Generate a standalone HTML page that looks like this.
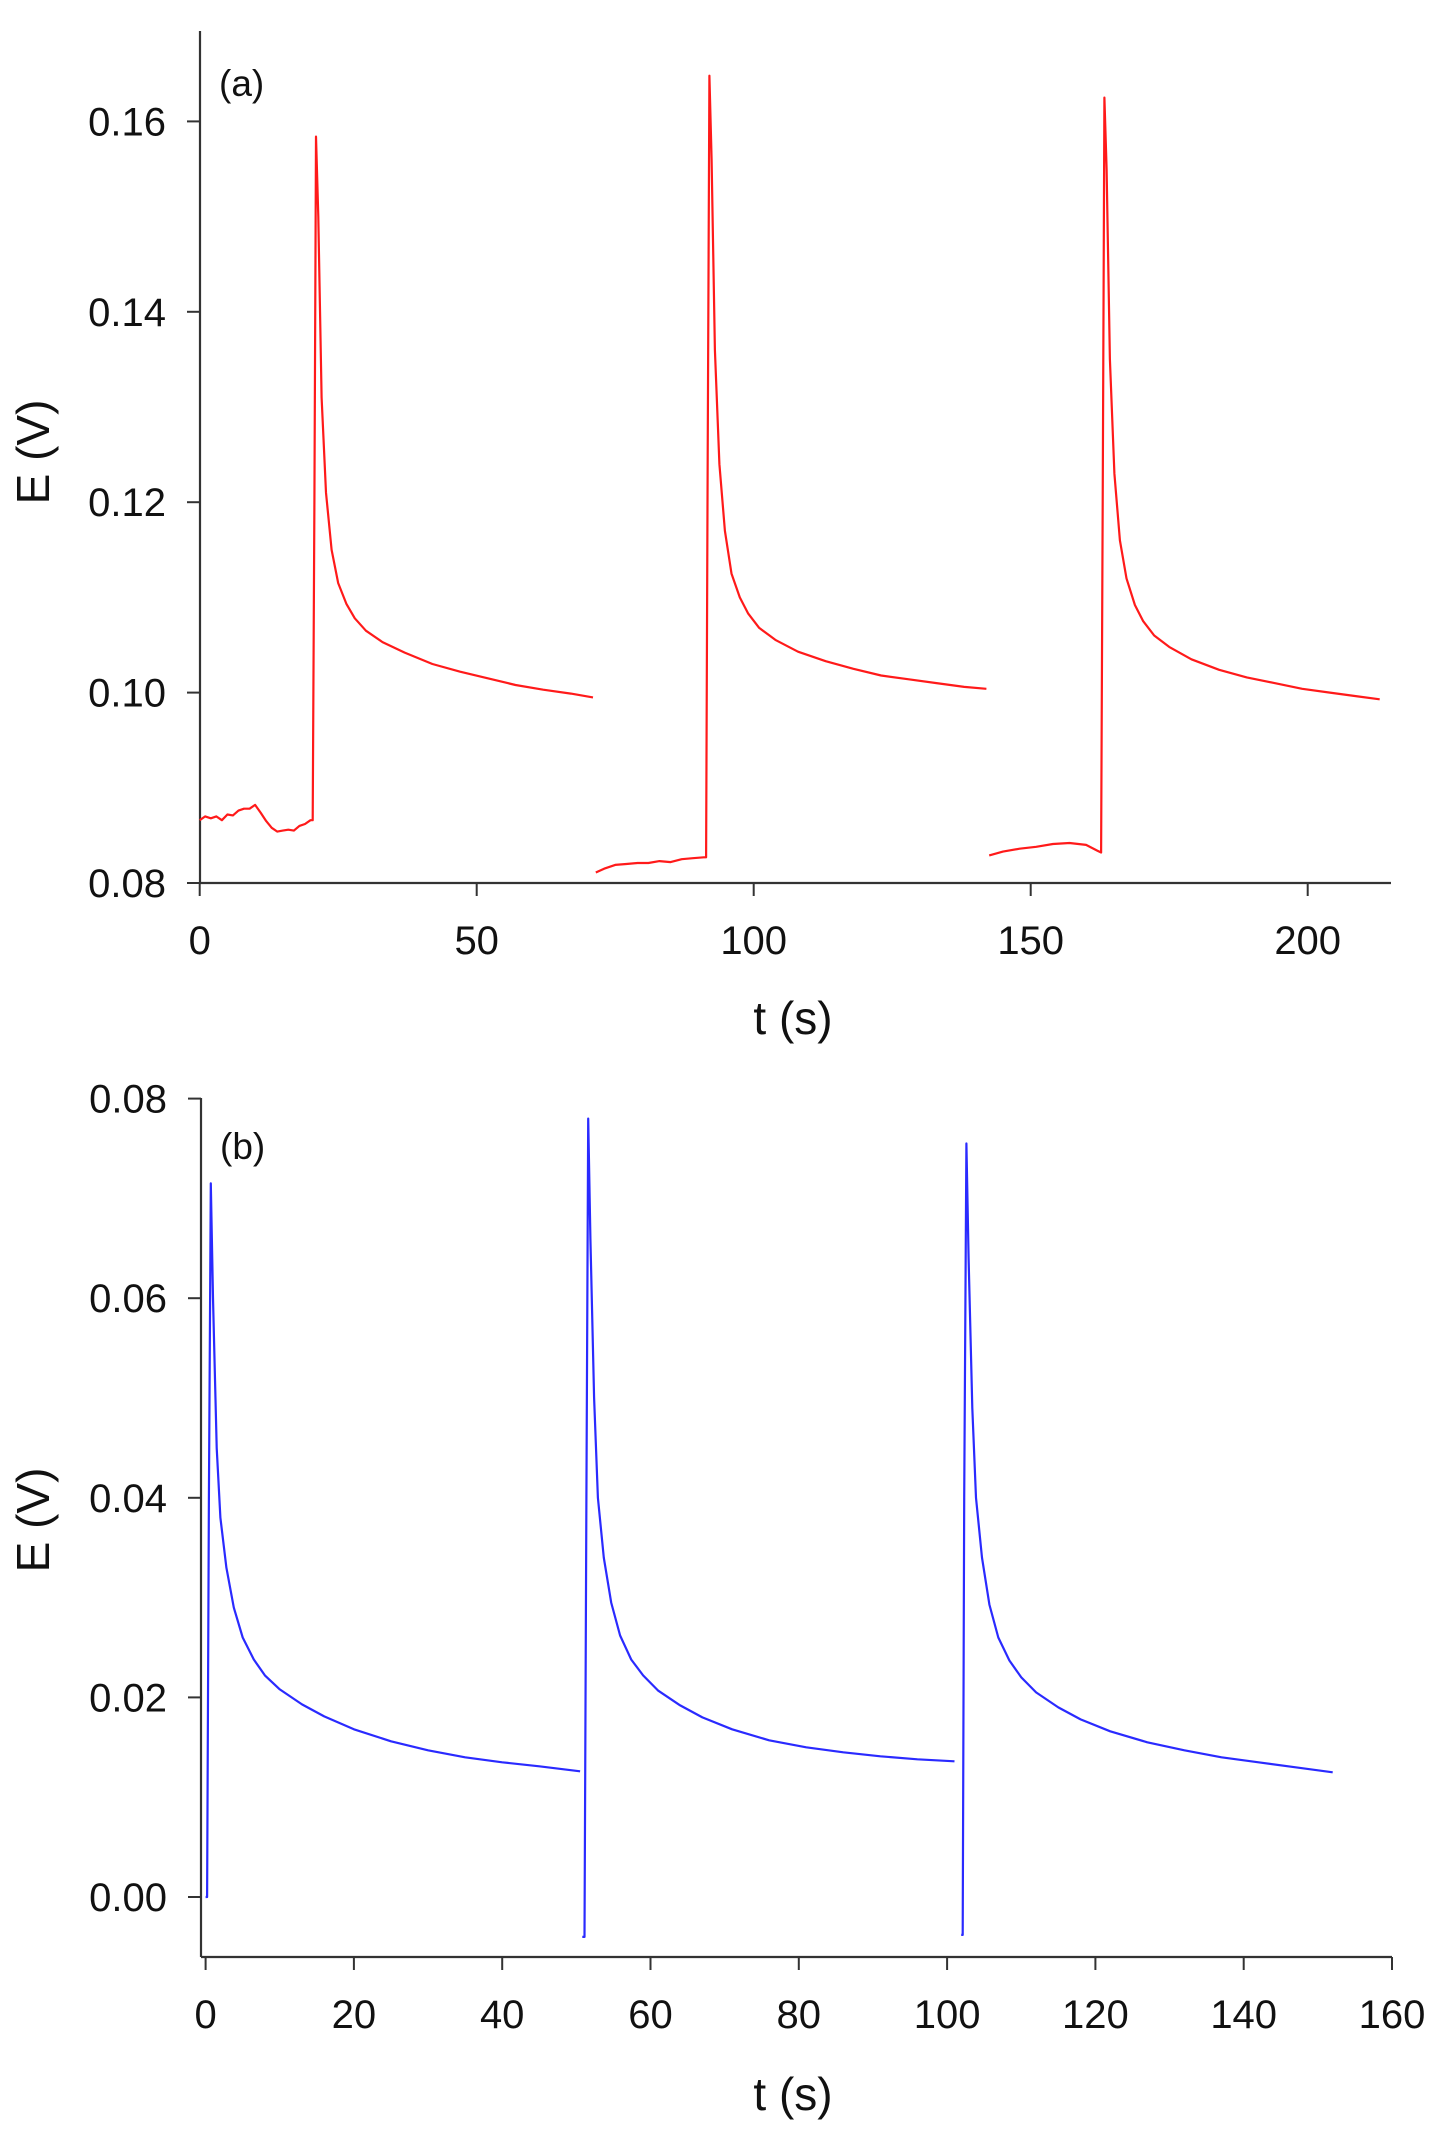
<!DOCTYPE html>
<html><head><meta charset="utf-8"><style>
html,body{margin:0;padding:0;background:#fff;}
svg{display:block;}
text{font-family:"Liberation Sans",Arial,sans-serif;fill:#111;}
</style></head><body>
<svg id="chart" width="1440" height="2137" viewBox="0 0 1440 2137" xmlns="http://www.w3.org/2000/svg">
<g id="pa"></g>
<g id="pb"></g>
</svg>
<script>
// Panel (a) data
const aXTicks = [0, 50, 100, 150, 200];
const aYTicks = [0.08, 0.10, 0.12, 0.14, 0.16];
const aYLabels = ["0.08", "0.10", "0.12", "0.14", "0.16"];
const aSeg1T = [0,1,2,3,4,5,6,7,8,9,10,11,12,13,14,15,16,17,18,19,20,20.4,20.7,21.0,21.4,22,22.8,23.8,25,26.5,28,30,33,37,42,47,52,57,62,67,71];
const aSeg1E = [0.0866,0.0870,0.0868,0.0870,0.0866,0.0872,0.0871,0.0876,0.0878,0.0878,0.0882,0.0874,0.0865,0.0858,0.0854,0.0855,0.0856,0.0855,0.0860,0.0862,0.0866,0.0866,0.120,0.1584,0.150,0.131,0.121,0.115,0.1115,0.1093,0.1078,0.1065,0.1053,0.1042,0.1030,0.1022,0.1015,0.1008,0.1003,0.0999,0.0995];
const aSeg2T = [71.5,73,75,77,79,81,83,85,87,89,91,91.4,91.7,92.0,92.4,93,93.8,94.8,96,97.5,99,101,104,108,113,118,123,128,133,138,142];
const aSeg2E = [0.0811,0.0815,0.0819,0.0820,0.0821,0.0821,0.0823,0.0822,0.0825,0.0826,0.0827,0.0827,0.125,0.1648,0.156,0.136,0.124,0.117,0.1125,0.1100,0.1083,0.1068,0.1055,0.1043,0.1033,0.1025,0.1018,0.1014,0.1010,0.1006,0.1004];
const aSeg3T = [142.5,145,148,151,154,157,160,162,162.7,163.0,163.3,163.7,164.3,165.1,166.1,167.3,168.8,170.3,172.3,175,179,184,189,194,199,204,209,213];
const aSeg3E = [0.0829,0.0833,0.0836,0.0838,0.0841,0.0842,0.0840,0.0834,0.0832,0.120,0.1625,0.155,0.135,0.123,0.1160,0.1120,0.1092,0.1075,0.1060,0.1048,0.1035,0.1024,0.1016,0.1010,0.1004,0.1000,0.0996,0.0993];
// Panel (b) data
const bXTicks = [0, 20, 40, 60, 80, 100, 120, 140, 160];
const bYTicks = [0.00, 0.02, 0.04, 0.06, 0.08];
const bYLabels = ["0.00", "0.02", "0.04", "0.06", "0.08"];
const bSeg1T = [0,0.2,0.45,0.7,1.0,1.5,2.0,2.8,3.8,5,6.5,8,10,13,16,20,25,30,35,40,45,50.5];
const bSeg1E = [0.000,0.000,0.040,0.0715,0.060,0.045,0.038,0.0330,0.0290,0.0260,0.0238,0.0222,0.0208,0.0193,0.0181,0.0168,0.0156,0.0147,0.0140,0.0135,0.0131,0.0126];
const bSeg2T = [50.8,51.1,51.35,51.6,51.9,52.4,52.9,53.7,54.7,55.9,57.4,59,61,64,67,71,76,81,86,91,96,101];
const bSeg2E = [-0.0040,-0.0040,0.040,0.0780,0.066,0.050,0.040,0.0340,0.0295,0.0262,0.0238,0.0222,0.0207,0.0192,0.0180,0.0168,0.0157,0.0150,0.0145,0.0141,0.0138,0.0136];
const bSeg3T = [101.9,102.1,102.3,102.6,102.9,103.4,103.9,104.7,105.7,106.9,108.4,110,112,115,118,122,127,132,137,142,147,152];
const bSeg3E = [-0.0038,-0.0038,0.040,0.0755,0.064,0.049,0.040,0.0340,0.0293,0.0260,0.0237,0.0220,0.0205,0.0190,0.0178,0.0166,0.0155,0.0147,0.0140,0.0135,0.0130,0.0125];

const NS = "http://www.w3.org/2000/svg";
function mk(parent, tag, attrs) {
  const el = document.createElementNS(NS, tag);
  for (const k in attrs) el.setAttribute(k, attrs[k]);
  parent.appendChild(el);
  return el;
}
function panel(g, cfg) {
  const sx = v => cfg.x0 + (v - cfg.xmin) * cfg.xs;
  const sy = v => cfg.y0 - (v - cfg.ymin) * cfg.ys;
  const ax = mk(g, "line", {x1: cfg.axX, y1: cfg.axTop, x2: cfg.axX, y2: cfg.axBot, stroke: "#333", "stroke-width": 2.2});
  
  
  const bx = mk(g, "line", {x1: cfg.axX, y1: cfg.axBot, x2: cfg.axRight, y2: cfg.axBot, stroke: "#333", "stroke-width": 2.2});
  
  
  cfg.yt.forEach((v, i) => {
    const y = sy(v);
    const t = mk(g, "line", {x1: cfg.axX - 13, y1: y, x2: cfg.axX, y2: y, stroke: "#333", "stroke-width": 2});
    
    
    const tx = mk(g, "text", {x: cfg.axX - 34, y: y + 14, "text-anchor": "end", "font-size": 40});
    tx.textContent = cfg.yl[i];
    
    
  });
  cfg.xt.forEach(v => {
    const x = sx(v);
    const t = mk(g, "line", {x1: x, y1: cfg.axBot, x2: x, y2: cfg.axBot + 13, stroke: "#333", "stroke-width": 2});
    
    
    const tx = mk(g, "text", {x: x, y: cfg.axBot + 71, "text-anchor": "middle", "font-size": 40});
    tx.textContent = String(v);
    
    
  });
  cfg.segs.forEach((s, i) => {
    const d = s[0].map((t, j) => (j ? "L" : "M") + sx(t).toFixed(1) + "," + sy(s[1][j]).toFixed(1)).join(" ");
    const p = mk(g, "path", {d: d, fill: "none", stroke: cfg.color, "stroke-width": 2.2, "stroke-linejoin": "round"});
    
    
  });
  const lab = mk(g, "text", {x: cfg.axX + 19, y: cfg.labY, "font-size": 37});
  lab.textContent = cfg.label;
  
  
  const xt = mk(g, "text", {x: 793, y: cfg.xTitleY, "text-anchor": "middle", "font-size": 46});
  xt.textContent = "t (s)";
  
  
  const yt = mk(g, "text", {x: 0, y: 0, "text-anchor": "middle", "font-size": 46, transform: "translate(49," + cfg.yTitleY + ") rotate(-90)"});
  yt.textContent = "E (V)";
  
  
}
panel(document.getElementById("pa"), {
  x0: 199.7, xmin: 0, xs: 5.54, y0: 883, ymin: 0.08, ys: 9520,
  axX: 200, axTop: 31, axBot: 883, axRight: 1391,
  xt: aXTicks, yt: aYTicks, yl: aYLabels, color: "#ff1a1a",
  segs: [[aSeg1T, aSeg1E], [aSeg2T, aSeg2E], [aSeg3T, aSeg3E]],
  label: "(a)", labY: 96, xTitleY: 1034, yTitleY: 452
});
panel(document.getElementById("pb"), {
  x0: 205.6, xmin: 0, xs: 7.415, y0: 1897, ymin: 0, ys: 9980,
  axX: 201, axTop: 1098, axBot: 1957, axRight: 1392,
  xt: bXTicks, yt: bYTicks, yl: bYLabels, color: "#2a2aff",
  segs: [[bSeg1T, bSeg1E], [bSeg2T, bSeg2E], [bSeg3T, bSeg3E]],
  label: "(b)", labY: 1159, xTitleY: 2110, yTitleY: 1520
});
</script>
</body></html>
